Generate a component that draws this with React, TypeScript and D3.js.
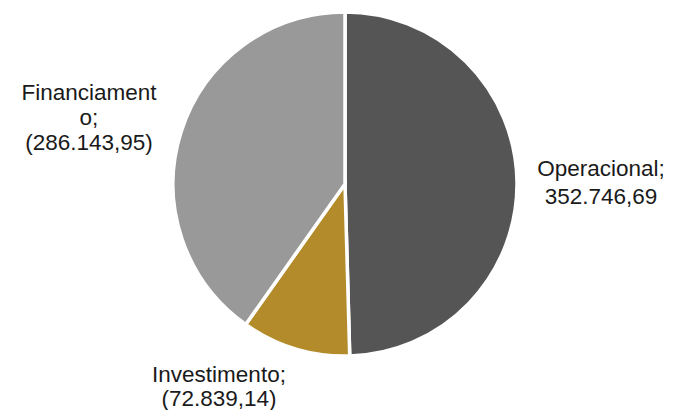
import React from "react";
import * as d3 from "d3";

const categories = ["Operacional", "Investimento", "Financiamento"];
const values = [352746.69, 72839.14, 286143.95];
const labelLines = [
  ["Operacional;", "352.746,69"],
  ["Investimento;", "(72.839,14)"],
  ["Financiament", "o;", "(286.143,95)"],
];
const colors = ["#555555", "#B38B2A", "#999999"];

const W = 674;
const H = 410;
const cx = 345;
const cy = 184;
const R = 172;

const labelPos: [number, number][] = [
  [601, 176],
  [219, 382],
  [89, 100],
];
const lineHeights = [28, 24, 25];

export default function App() {
  const pie = d3
    .pie<number>()
    .sort(null)
    .value((d) => d);
  const arcs = pie(values);
  const arc = d3.arc<d3.PieArcDatum<number>>().innerRadius(0).outerRadius(R);
  return (
    <svg
      width={W}
      height={H}
      style={{ position: "absolute", left: 0, top: 0, background: "#fff" }}
    >
      <g transform={`translate(${cx},${cy})`}>
        {arcs.map((a, i) => (
          <path
            key={categories[i]}
            d={arc(a) || ""}
            fill={colors[i]}
            stroke="#fff"
            strokeWidth={3.5}
            strokeLinejoin="miter"
          />
        ))}
      </g>
      {labelLines.map((lines, i) => (
        <text
          key={categories[i]}
          x={labelPos[i][0]}
          y={labelPos[i][1]}
          textAnchor="middle"
          fontFamily="'Liberation Sans', Arial, sans-serif"
          fontSize={22.5}
          fill="#1a1a1a"
        >
          {lines.map((l, j) => (
            <tspan key={j} x={labelPos[i][0]} dy={j === 0 ? 0 : lineHeights[i]}>
              {l}
            </tspan>
          ))}
        </text>
      ))}
    </svg>
  );
}
